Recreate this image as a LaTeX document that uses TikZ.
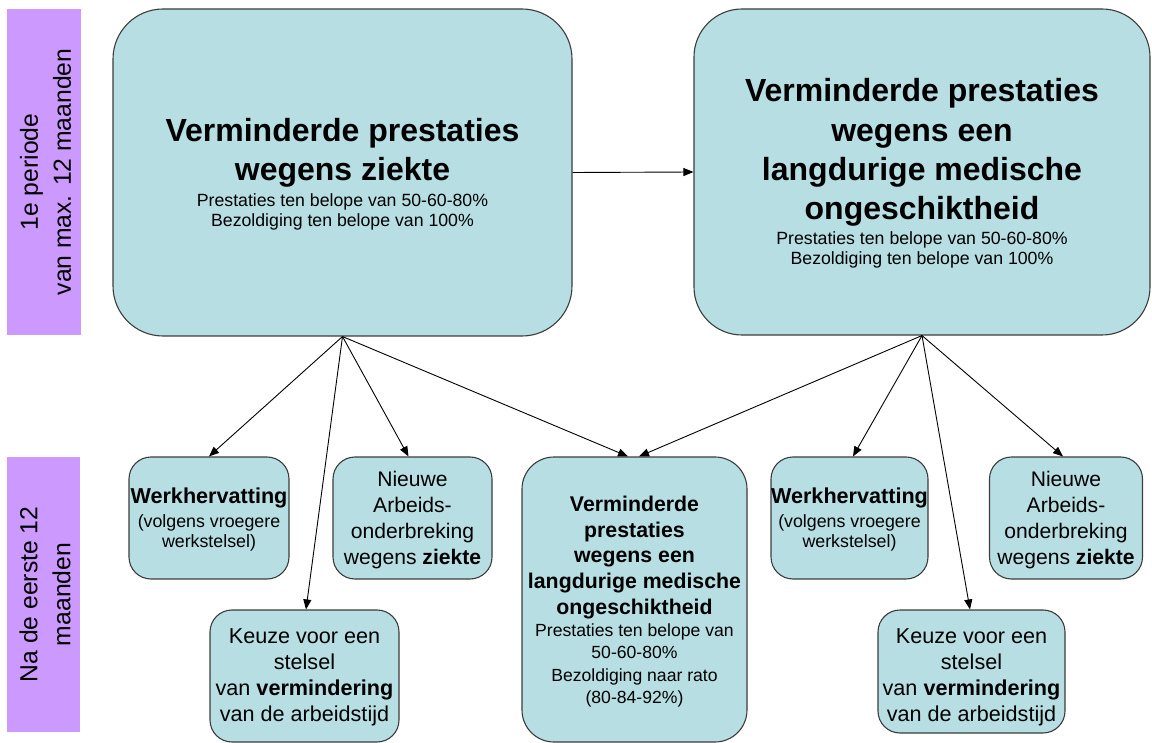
\documentclass[tikz,border=0pt]{standalone}
\usepackage{fontspec}
\setmainfont{Liberation Sans}
\usetikzlibrary{arrows.meta}
\definecolor{boxfill}{RGB}{183,223,227}
\definecolor{boxline}{RGB}{60,60,60}
\definecolor{bandfill}{RGB}{204,153,255}
\tikzset{
  box/.style={draw=boxline, line width=1.1pt, fill=boxfill, inner sep=0pt},
  band/.style={fill=bandfill, inner sep=0pt},
  arr/.style={draw=black, line width=0.9pt, -{Triangle[length=10pt,width=8pt]}},
  txt/.style={inner sep=0pt, align=center, text=black},
  bigtitle/.style={txt, font=\fontsize{32}{38.5}\selectfont\bfseries},
  bigsub/.style={txt, font=\fontsize{17.7}{20}\selectfont},
  bandtxt/.style={txt, rotate=90, font=\fontsize{24.7}{33}\selectfont},
}
\begin{document}
\begin{tikzpicture}[x=1pt,y=-1pt]
\useasboundingbox (0,0) rectangle (1152,743);
% period bands
\node[band, minimum width=74pt, minimum height=326pt] (p1) at (44,172) {};
\node[band, minimum width=73pt, minimum height=275pt] (p2) at (43.5,594.5) {};
\node[bandtxt] (p1t) at (45.5,172) {1e periode\\van max. 12 maanden};
\node[bandtxt] (p2t) at (45,594.5) {Na de eerste 12\\maanden};
% top boxes
\node[box, rounded corners=50pt, minimum width=459pt, minimum height=327pt] (tl) at (342.5,172.5) {};
\node[box, rounded corners=48pt, minimum width=456pt, minimum height=326pt] (tr) at (922,172) {};
\node[bigtitle] (tlt) at (342.5,152.6) {Verminderde prestaties\\wegens ziekte};
\node[bigsub] (tls) at (342.5,212.4) {Prestaties ten belope van 50-60-80\%\\Bezoldiging ten belope van 100\%};
\node[bigtitle, font=\fontsize{32}{39.3}\selectfont\bfseries] (trt) at (922,152.6) {Verminderde prestaties\\wegens een\\langdurige medische\\ongeschiktheid};
\node[bigsub] (trs) at (922,250.4) {Prestaties ten belope van 50-60-80\%\\Bezoldiging ten belope van 100\%};
% bottom boxes
\node[box, rounded corners=22pt, minimum width=160pt, minimum height=122pt] (wl) at (209,518) {};
\node[box, rounded corners=22pt, minimum width=159pt, minimum height=122pt] (nl) at (412.5,518) {};
\node[box, rounded corners=22pt, minimum width=189pt, minimum height=132pt] (kl) at (304.5,676) {};
\node[box, rounded corners=32pt, minimum width=225pt, minimum height=285pt] (m) at (634.5,599.5) {};
\node[box, rounded corners=22pt, minimum width=157pt, minimum height=122pt] (wr) at (849.5,518) {};
\node[box, rounded corners=22pt, minimum width=153pt, minimum height=122pt] (nr) at (1066,518) {};
\node[box, rounded corners=22pt, minimum width=187pt, minimum height=123pt] (kr) at (971.5,671.5) {};
% bottom texts
\node[txt, anchor=base, font=\fontsize{21.6}{26}\selectfont\bfseries] (wlt) at (209,503.3) {Werkhervatting};
\node[txt, font=\fontsize{17.8}{20}\selectfont] (wls) at (209,532.6) {(volgens vroegere\\werkstelsel)};
\node[txt, anchor=base, font=\fontsize{21.6}{26}\selectfont\bfseries] (wrt) at (849.5,503.3) {Werkhervatting};
\node[txt, font=\fontsize{17.8}{20}\selectfont] (wrs) at (849.5,532.6) {(volgens vroegere\\werkstelsel)};
\node[txt, font=\fontsize{21.1}{25.8}\selectfont] (nlt) at (412.5,520) {Nieuwe\\Arbeids-\\onderbreking\\wegens \textbf{ziekte}};
\node[txt, font=\fontsize{21.1}{25.8}\selectfont] (nrt) at (1066,520) {Nieuwe\\Arbeids-\\onderbreking\\wegens \textbf{ziekte}};
\node[txt, font=\fontsize{21.6}{26}\selectfont] (klt) at (304.5,677.3) {Keuze voor een\\stelsel\\van \textbf{vermindering}\\van de arbeidstijd};
\node[txt, font=\fontsize{21.6}{26}\selectfont] (krt) at (971.5,677.3) {Keuze voor een\\stelsel\\van \textbf{vermindering}\\van de arbeidstijd};
\node[txt, font=\fontsize{21.3}{25.6}\selectfont\bfseries] (mt) at (634.5,557.4) {Verminderde\\prestaties\\wegens een\\langdurige medische\\ongeschiktheid};
\node[txt, font=\fontsize{17.6}{22.2}\selectfont] (ms) at (634.5,665.4) {Prestaties ten belope van\\50-60-80\%\\Bezoldiging naar rato\\(80-84-92\%)};
% connectors
\draw[arr] (tl.east) -- (tr.west);
\draw[arr] (tl.south) -- (wl.north);
\draw[arr] (tl.south) -- ([xshift=1.5pt]kl.north);
\draw[arr] (tl.south) -- ([xshift=-4pt]nl.north);
\draw[arr] (tl.south) -- ([xshift=-6.5pt]m.north);
\draw[arr] (tr.south) -- ([xshift=4.5pt]m.north);
\draw[arr] (tr.south) -- ([xshift=3.5pt]wr.north);
\draw[arr] (tr.south) -- ([xshift=-1.5pt]kr.north);
\draw[arr] (tr.south) -- ([xshift=-3pt]nr.north);
\end{tikzpicture}
\end{document}
